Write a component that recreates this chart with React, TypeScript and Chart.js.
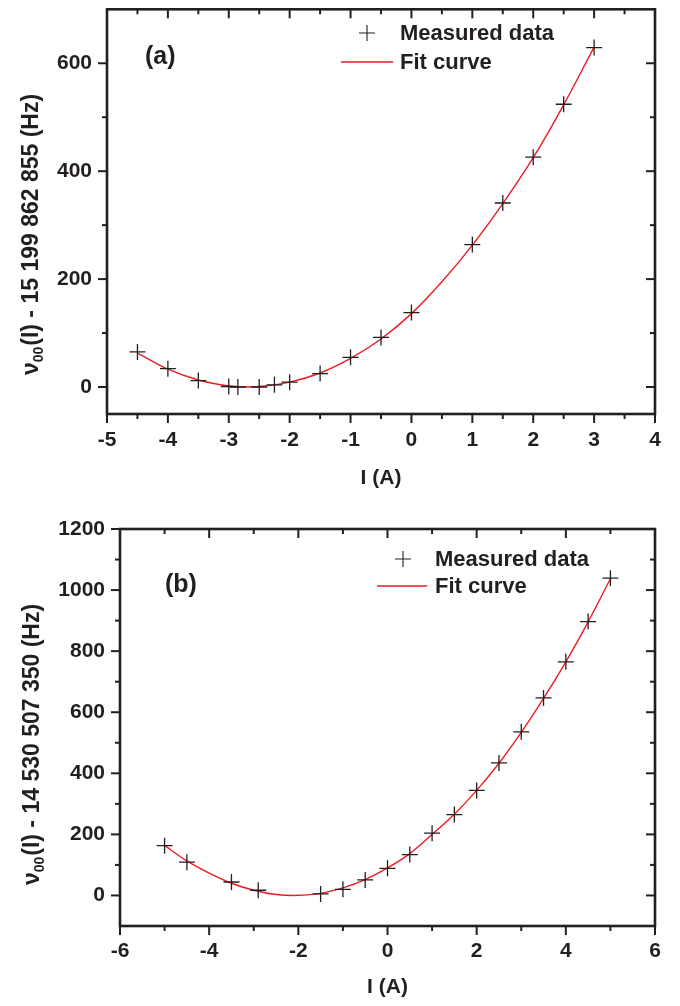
import { useEffect, useRef } from 'react';
import { Chart, registerables } from 'chart.js';

Chart.register(...registerables);

const INK = '#231f20';
const RED = '#ec1c24';
const FONT = '"Liberation Sans", Arial, Helvetica, sans-serif';

// ---------- Panel (a) ----------
const currentsA = [-4.5, -4, -3.5, -3, -2.85, -2.5, -2.25, -2, -1.5, -1, -0.5, 0, 1, 1.5, 2, 2.5, 3];
const measuredA = [65, 34, 12, 1, 0, 0, 4, 9, 25, 55, 92, 138, 264, 341, 426, 524, 629];
const fitCurrentsA = [-4.5, -4, -3.5, -3, -2.75, -2.5, -2, -1.5, -1, -0.5, 0, 0.5, 1, 1.5, 2, 2.5, 3];
const fitA = [63, 33, 13, 2, 0, 1, 9, 26, 53, 89, 136, 195, 263, 340, 425, 523, 630];
const xMajorA = [-5, -4, -3, -2, -1, 0, 1, 2, 3, 4];
const xMinorA = [-4.5, -3.5, -2.5, -1.5, -0.5, 0.5, 1.5, 2.5, 3.5];
const yMajorA = [0, 200, 400, 600];
const yMinorA = [100, 300, 500];

// ---------- Panel (b) ----------
const currentsB = [-5, -4.5, -3.5, -2.9, -1.5, -1, -0.5, 0, 0.5, 1, 1.5, 2, 2.5, 3, 3.5, 4, 4.5, 5];
const measuredB = [163, 109, 44, 17, 5, 20, 51, 89, 134, 204, 265, 344, 434, 536, 647, 765, 897, 1039];
const fitCurrentsB = [-5, -4.5, -4, -3.5, -3, -2.5, -2.1, -1.5, -1, -0.5, 0, 0.5, 1, 1.5, 2, 2.5, 3, 3.5, 4, 4.5, 5];
const fitB = [164, 113, 73, 40, 17, 3, 0, 7, 25, 52, 90, 137, 200, 266, 344, 433, 534, 645, 765, 896, 1037];
const xMajorB = [-6, -4, -2, 0, 2, 4, 6];
const xMinorB = [-5, -3, -1, 1, 3, 5];
const yMajorB = [0, 200, 400, 600, 800, 1000, 1200];
const yMinorB = [100, 300, 500, 700, 900, 1100];

const xTitle = 'I (A)';
const legendLabels = ['Measured data', 'Fit curve'];

type Panel = {
  xs: number[]; ys: number[]; fx: number[]; fy: number[];
  xMin: number; xMax: number; yMin: number; yMax: number;
  xMajor: number[]; xMinor: number[]; yMajor: number[]; yMinor: number[];
  height: number; yAxisWidth: number; xAxisHeight: number; padTop: number; padRight: number;
  xTickPad: number; xTitlePad: number;
  overlay: any;
};

const panelA: Panel = {
  xs: currentsA, ys: measuredA, fx: fitCurrentsA, fy: fitA,
  xMin: -5, xMax: 4, yMin: -50, yMax: 700,
  xMajor: xMajorA, xMinor: xMinorA, yMajor: yMajorA, yMinor: yMinorA,
  height: 500, yAxisWidth: 107, xAxisHeight: 86, padTop: 5, padRight: 25,
  xTickPad: 14, xTitlePad: 11,
  overlay: {
    label: '(a)', labelX: 145, labelY: 57,
    crossX: 367, row1: 33, lineX1: 341, lineX2: 393, row2: 62, textX: 400,
    titleX: 30, titleY: 235, sub: '00', rest: '(I) - 15 199 862 855 (Hz)',
  },
};

const panelB: Panel = {
  xs: currentsB, ys: measuredB, fx: fitCurrentsB, fy: fitB,
  xMin: -6, xMax: 6, yMin: -100, yMax: 1200,
  xMajor: xMajorB, xMinor: xMinorB, yMajor: yMajorB, yMinor: yMinorB,
  height: 506, yAxisWidth: 120, xAxisHeight: 80, padTop: 29, padRight: 25,
  xTickPad: 13, xTitlePad: 8,
  overlay: {
    label: '(b)', labelX: 165, labelY: 85,
    crossX: 403, row1: 59, lineX1: 377, lineX2: 427, row2: 86, textX: 435,
    titleX: 31, titleY: 245, sub: '00', rest: '(I) - 14 530 507 350 (Hz)',
  },
};

const framePlugin = {
  id: 'frame',
  afterDraw(chart: any, _args: any, opts: any) {
    const { ctx, chartArea } = chart;
    const { left, right, top, bottom } = chartArea;
    const xs = chart.scales.x;
    const ys = chart.scales.y;
    ctx.save();
    ctx.strokeStyle = INK;
    ctx.lineCap = 'butt';
    const seg = (x1: number, y1: number, x2: number, y2: number) => {
      ctx.beginPath();
      ctx.moveTo(x1, y1);
      ctx.lineTo(x2, y2);
      ctx.stroke();
    };
    ctx.lineWidth = 2;
    const MAJ = 9, MIN = 5;
    const xt = (vals: number[], len: number) => vals.forEach((v) => {
      const p = xs.getPixelForValue(v);
      seg(p, bottom, p, bottom + len);
      seg(p, top, p, top + len);
    });
    const yt = (vals: number[], len: number) => vals.forEach((v) => {
      const p = ys.getPixelForValue(v);
      seg(left, p, left - len, p);
      seg(right, p, right - len, p);
    });
    xt(opts.xMajor, MAJ); xt(opts.xMinor, MIN);
    yt(opts.yMajor, MAJ); yt(opts.yMinor, MIN);
    ctx.lineWidth = 2.6;
    ctx.strokeRect(left, top, right - left, bottom - top);
    ctx.restore();
  },
};

const overlayPlugin = {
  id: 'overlay',
  afterDraw(chart: any, _args: any, o: any) {
    const { ctx } = chart;
    ctx.save();
    ctx.fillStyle = INK;
    ctx.font = `bold 25px ${FONT}`;
    ctx.textAlign = 'left';
    ctx.textBaseline = 'middle';
    ctx.fillText(o.label, o.labelX, o.labelY);
    ctx.strokeStyle = INK;
    ctx.lineWidth = 1.1;
    ctx.beginPath();
    ctx.moveTo(o.crossX - 8, o.row1); ctx.lineTo(o.crossX + 8, o.row1);
    ctx.moveTo(o.crossX, o.row1 - 8); ctx.lineTo(o.crossX, o.row1 + 8);
    ctx.stroke();
    ctx.strokeStyle = RED;
    ctx.lineWidth = 1.4;
    ctx.beginPath();
    ctx.moveTo(o.lineX1, o.row2); ctx.lineTo(o.lineX2, o.row2);
    ctx.stroke();
    ctx.font = `bold 22px ${FONT}`;
    ctx.fillText(legendLabels[0], o.textX, o.row1 + 1);
    ctx.fillText(legendLabels[1], o.textX, o.row2 + 1);
    const fs = 23;
    const big = `bold ${fs}px ${FONT}`;
    const small = `bold ${Math.round(fs * 0.62)}px ${FONT}`;
    ctx.translate(o.titleX, o.titleY);
    ctx.rotate(-Math.PI / 2);
    ctx.textBaseline = 'alphabetic';
    ctx.font = big;
    const w1 = ctx.measureText('ν').width;
    const w3 = ctx.measureText(o.rest).width;
    ctx.font = small;
    const w2 = ctx.measureText(o.sub).width;
    let x = -(w1 + w2 + w3) / 2;
    const base = fs * 0.36;
    ctx.font = big;
    ctx.fillText('ν', x, base);
    x += w1;
    ctx.font = small;
    ctx.fillText(o.sub, x, base + fs * 0.22);
    x += w2 + 1;
    ctx.font = big;
    ctx.fillText(o.rest, x, base);
    ctx.restore();
  },
};

function buildChart(canvas: HTMLCanvasElement, p: Panel) {
  const measured = p.xs.map((x, i) => ({ x, y: p.ys[i] }));
  const fit = p.fx.map((x, i) => ({ x, y: p.fy[i] }));
  const tickFont = { family: FONT, size: 21, weight: 'bold' as const };
  return new Chart(canvas, {
    type: 'scatter',
    data: {
      datasets: [
        {
          label: legendLabels[1],
          data: fit,
          showLine: true,
          borderColor: RED,
          borderWidth: 1.4,
          pointRadius: 0,
          cubicInterpolationMode: 'monotone',
          fill: false,
          order: 2,
        },
        {
          label: legendLabels[0],
          data: measured,
          showLine: false,
          pointStyle: 'cross',
          pointRadius: 8,
          pointBorderColor: INK,
          pointBorderWidth: 1.3,
          borderColor: INK,
          order: 1,
        },
      ],
    },
    options: {
      responsive: false,
      animation: false,
      devicePixelRatio: 1,
      layout: { padding: { left: 0, right: p.padRight, top: p.padTop, bottom: 0 } },
      plugins: {
        legend: { display: false },
        tooltip: { enabled: false },
        frame: { xMajor: p.xMajor, xMinor: p.xMinor, yMajor: p.yMajor, yMinor: p.yMinor },
        overlay: p.overlay,
      } as any,
      scales: {
        x: {
          type: 'linear',
          min: p.xMin,
          max: p.xMax,
          afterBuildTicks: (s: any) => { s.ticks = p.xMajor.map((v) => ({ value: v })); },
          afterFit: (s: any) => { s.height = p.xAxisHeight; s.paddingLeft = 0; s.paddingRight = 0; s.paddingTop = 0; s.paddingBottom = 0; },
          ticks: { color: INK, font: tickFont, padding: p.xTickPad, maxRotation: 0, autoSkip: false, callback: (v: any) => String(v) },
          grid: { display: true, drawOnChartArea: false, drawTicks: false },
          border: { display: false },
          title: {
            display: true,
            text: xTitle,
            color: INK,
            font: { family: FONT, size: 21, weight: 'bold', lineHeight: 1 },
            padding: { top: 0, bottom: p.xTitlePad },
          },
        },
        y: {
          type: 'linear',
          min: p.yMin,
          max: p.yMax,
          afterBuildTicks: (s: any) => { s.ticks = p.yMajor.map((v) => ({ value: v })); },
          afterFit: (s: any) => { s.width = p.yAxisWidth; s.paddingLeft = 0; s.paddingRight = 0; s.paddingTop = 0; s.paddingBottom = 0; },
          ticks: { color: INK, font: tickFont, padding: 15, autoSkip: false, callback: (v: any) => String(v) },
          grid: { display: true, drawOnChartArea: false, drawTicks: false },
          border: { display: false },
        },
      },
    },
    plugins: [framePlugin, overlayPlugin],
  } as any);
}

export default function App() {
  const refA = useRef<HTMLCanvasElement>(null);
  const refB = useRef<HTMLCanvasElement>(null);
  useEffect(() => {
    const a = buildChart(refA.current!, panelA);
    const b = buildChart(refB.current!, panelB);
    return () => { a.destroy(); b.destroy(); };
  }, []);
  return (
    <div style={{ position: 'absolute', left: 0, top: 0, width: 680, height: 1006, background: '#fff' }}>
      <canvas ref={refA} width={680} height={500} style={{ position: 'absolute', left: 0, top: 0, width: 680, height: 500 }} />
      <canvas ref={refB} width={680} height={506} style={{ position: 'absolute', left: 0, top: 500, width: 680, height: 506 }} />
    </div>
  );
}
